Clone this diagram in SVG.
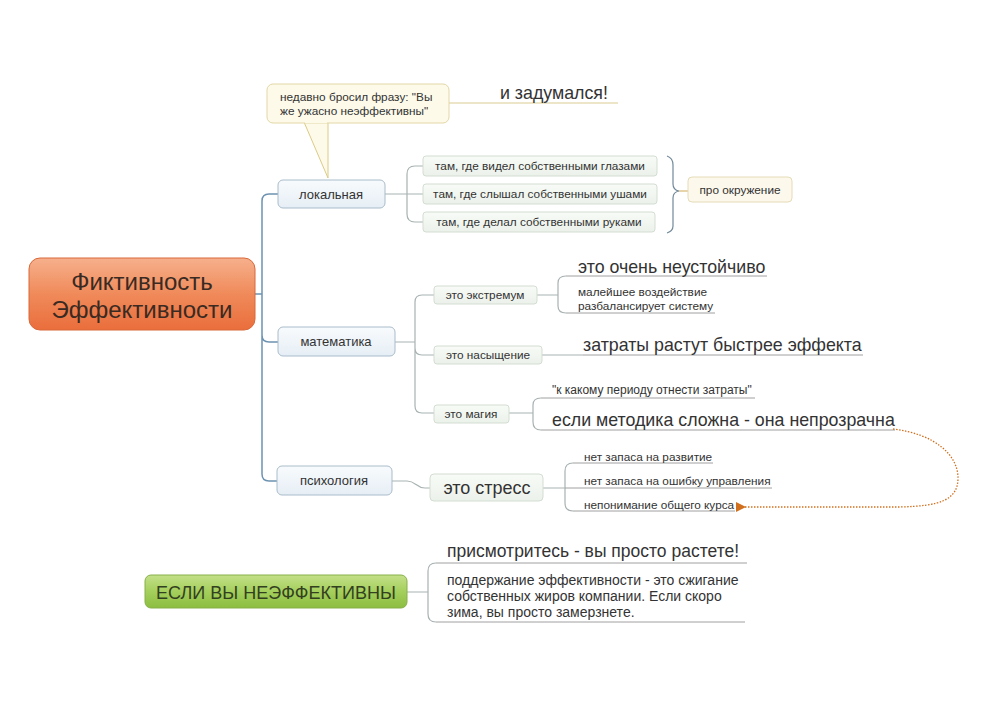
<svg xmlns="http://www.w3.org/2000/svg" width="995" height="703" viewBox="0 0 995 703">
<defs>
<linearGradient id="gOrange" x1="0" y1="0" x2="0" y2="1"><stop offset="0" stop-color="#f6b08c"/><stop offset="0.5" stop-color="#f08a5a"/><stop offset="1" stop-color="#ea6e3c"/></linearGradient>
<linearGradient id="gBlue" x1="0" y1="0" x2="0" y2="1"><stop offset="0" stop-color="#f8fbfd"/><stop offset="1" stop-color="#e6eef5"/></linearGradient>
<linearGradient id="gGreenL" x1="0" y1="0" x2="0" y2="1"><stop offset="0" stop-color="#f8fbf7"/><stop offset="1" stop-color="#ebf2ea"/></linearGradient>
<linearGradient id="gGreen" x1="0" y1="0" x2="0" y2="1"><stop offset="0" stop-color="#c4e08a"/><stop offset="0.5" stop-color="#a4cf5c"/><stop offset="1" stop-color="#8cbd40"/></linearGradient>
<marker id="arrO" markerWidth="10" markerHeight="10" refX="1" refY="5" orient="auto-start-reverse" markerUnits="userSpaceOnUse"><path d="M10,0 L0,5 L10,10 Z" fill="#d0701f"/></marker>
</defs>
<style>
text{font-family:"Liberation Sans",Arial,sans-serif;fill:#333;}
.t11{font-size:11.8px;}
.t13{font-size:13px;}
.t17{font-size:17.8px;}
.mid{text-anchor:middle;}
.blue{fill:url(#gBlue);stroke:#a9bccb;stroke-width:1;}
.gl{fill:url(#gGreenL);stroke:#d3ddd2;stroke-width:1;}
.trunk{fill:none;stroke:#6e93b0;stroke-width:1.5;}
.sub{fill:none;stroke:#a8b2b2;stroke-width:1.2;}
.ul{fill:none;stroke:#a0a0a0;stroke-width:1;}
</style>
<rect width="995" height="703" fill="#ffffff"/>

<g id="connectors">
<path class="trunk" d="M255,294 H262 M262,294 V201 Q262,194 269,194 H278 M262,294 V335 Q262,342 269,342 H278 M262,294 V474 Q262,481 269,481 H277"/>
<path class="sub" d="M385,194 H407 M407,194 V174 Q407,166 415,166 H423 M407,194 H423 M407,194 V214 Q407,222 415,222 H423"/>
<path fill="none" stroke="#71899a" stroke-width="1.2" d="M667,156 Q673,158 673,165 V184 Q673,190 679,191 Q673,192 673,198 V226 Q673,231 667,233"/>
<path fill="none" stroke="#d9b873" stroke-width="1.2" d="M679,191 H688"/>
<path fill="none" stroke="#dccb90" stroke-width="1.2" d="M449,103 H618"/>
<path class="sub" d="M395,342 H415 M415,342 V302 Q415,295 422,295 H434 M415,342 V348 Q415,355 422,355 H434 M415,342 V406 Q415,413 422,413 H434"/>
<path class="sub" d="M537,295 H558 M558,295 V283 Q558,276 566,276 M558,295 V306 Q558,313 566,313"/>
<path class="ul" d="M566,276 H767 M566,313 H715"/>
<path class="sub" d="M542,355 H583"/>
<path class="ul" d="M583,355 H863"/>
<path class="sub" d="M509,413 H533 M533,413 V405 Q533,398 541,398 M533,413 V422 Q533,430 541,430"/>
<path class="ul" d="M541,398 H755 M541,430 H895"/>
<path class="sub" d="M392,481 H407 C416,481 416,488 425,488 H430"/>
<path class="sub" d="M543,488 H565 M565,488 V471 Q565,463 573,463 M565,488 V503 Q565,511 573,511"/>
<path class="ul" d="M565,488 H772 M573,463 H713 M573,511 H735"/>
<path class="sub" d="M407,592 H428 M428,592 V571 Q428,563 436,563 M428,592 V614 Q428,622 436,622"/>
<path class="ul" d="M436,563 H747 M436,622 H745"/>
<path fill="none" stroke="#d0701f" stroke-width="1.3" stroke-dasharray="1.5,1.5" marker-end="url(#arrO)" d="M893,429 C935,434 958,455 958,478 C958,500 940,506 900,507 L745,507"/>
</g>

<g id="central">
<rect x="29" y="258" width="226" height="72" rx="11" fill="url(#gOrange)" stroke="#d9693a" stroke-width="1"/>
<text x="142" y="290" class="mid" style="font-size:24px;fill:#3a2a22">Фиктивность</text>
<text x="142" y="318" class="mid" style="font-size:24px;fill:#3a2a22">Эффективности</text>
</g>

<g id="callout">
<path d="M304,122 L328,178 L328,122 Z" fill="#fdfaea" stroke="#dccb86" stroke-width="1"/>
<rect x="267" y="84" width="182" height="39" rx="6" fill="#fdfaea" stroke="#e2d7a6" stroke-width="1"/>
<path d="M305,122 H327" stroke="#fdfaea" stroke-width="2"/>
<text x="280" y="101" class="t11">недавно бросил фразу: "Вы</text>
<text x="280" y="115" class="t11">же ужасно неэффективны"</text>
</g>
<g id="zadumalsya"><text x="500" y="99" class="t17">и задумался!</text></g>

<g id="lokalnaya">
<rect class="blue" x="278" y="180" width="107" height="28" rx="5"/>
<text x="331" y="199" class="t13 mid">локальная</text>
</g>
<g id="glaza"><rect class="gl" x="423" y="156" width="234" height="20" rx="3"/><text x="540" y="170" class="t11 mid">там, где видел собственными глазами</text></g>
<g id="ushi"><rect class="gl" x="423" y="184" width="234" height="20" rx="3"/><text x="540" y="198" class="t11 mid">там, где слышал собственными ушами</text></g>
<g id="ruki"><rect class="gl" x="423" y="212" width="232" height="20" rx="3"/><text x="539" y="226" class="t11 mid">там, где делал собственными руками</text></g>
<g id="okruzhenie">
<rect x="688" y="177" width="104" height="25" rx="4" fill="#fcf8ec" stroke="#e6dbb8" stroke-width="1"/>
<text x="740" y="194" class="t11 mid">про окружение</text>
</g>

<g id="matematika">
<rect class="blue" x="278" y="327" width="117" height="29" rx="5"/>
<text x="336" y="346" class="t13 mid">математика</text>
</g>
<g id="ekstremum"><rect class="gl" x="434" y="286" width="103" height="18" rx="3"/><text x="485" y="299" class="t11 mid">это экстремум</text></g>
<g id="neustoichivo"><text x="578" y="273" class="t17">это очень неустойчиво</text></g>
<g id="maleishee"><text x="578" y="296" class="t11">малейшее воздействие</text><text x="578" y="310" class="t11">разбалансирует систему</text></g>
<g id="nasyshchenie"><rect class="gl" x="434" y="346" width="108" height="18" rx="3"/><text x="488" y="359" class="t11 mid">это насыщение</text></g>
<g id="zatraty"><text x="583" y="351" class="t17">затраты растут быстрее эффекта</text></g>
<g id="magiya"><rect class="gl" x="434" y="405" width="75" height="18" rx="3"/><text x="471" y="418" class="t11 mid">это магия</text></g>
<g id="period"><text x="552" y="394" style="font-size:12px">"к какому периоду отнести затраты"</text></g>
<g id="metodika"><text x="552" y="426" class="t17">если методика сложна - она непрозрачна</text></g>

<g id="psihologiya">
<rect class="blue" x="277" y="466" width="115" height="29" rx="5"/>
<text x="334" y="485" class="t13 mid">психология</text>
</g>
<g id="stress"><rect class="gl" x="430" y="474" width="113" height="27" rx="4"/><text x="487" y="494" class="mid" style="font-size:18px">это стресс</text></g>
<g id="razvitie"><text x="584" y="461" class="t11">нет запаса на развитие</text></g>
<g id="oshibka"><text x="584" y="485" class="t11">нет запаса на ошибку управления</text></g>
<g id="kurs"><text x="584" y="509" class="t11">непонимание общего курса</text></g>

<g id="neeffektivny">
<rect x="145" y="575" width="262" height="33" rx="6" fill="url(#gGreen)" stroke="#86b048" stroke-width="1"/>
<text x="276" y="599" class="mid" style="font-size:18px;fill:#33401f">ЕСЛИ ВЫ НЕЭФФЕКТИВНЫ</text>
</g>
<g id="rastete"><text x="447" y="557" style="font-size:17.5px">присмотритесь - вы просто растете!</text></g>
<g id="podderzhanie">
<text x="447" y="585" style="font-size:14px">поддержание эффективности - это сжигание</text>
<text x="447" y="601" style="font-size:14px">собственных жиров компании. Если скоро</text>
<text x="447" y="617" style="font-size:14px">зима, вы просто замерзнете.</text>
</g>
</svg>
